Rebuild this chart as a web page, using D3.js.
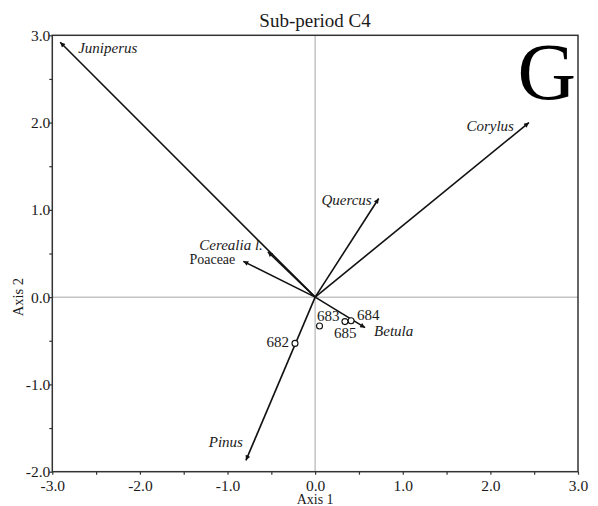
<!DOCTYPE html>
<html>
<head>
<meta charset="utf-8">
<script src="https://cdn.jsdelivr.net/npm/d3@7"></script>
<style>
  html, body { margin: 0; padding: 0; background: #fff; }
  svg { display: block; font-family: "Liberation Serif", "Times New Roman", serif; }
</style>
</head>
<body>
<svg id="chart" width="598" height="506"></svg>
<script>
// Species scores (biplot arrows) on ordination axes 1 and 2
const speciesNames = ["Juniperus", "Corylus", "Quercus", "Cerealia l.", "Poaceae", "Betula", "Pinus"];
const speciesAxis1 = [-2.91, 2.44, 0.725, -0.54, -0.82, 0.57, -0.79];
const speciesAxis2 = [2.92, 2.00, 1.13, 0.52, 0.41, -0.35, -1.87];
const speciesItalic = [true, true, true, true, false, true, true];

// Sample scores
const sampleIds = ["682", "683", "684", "685"];
const sampleAxis1 = [-0.23, 0.05, 0.41, 0.34];
const sampleAxis2 = [-0.53, -0.33, -0.27, -0.28];

// Axis tick values
const xTicks = [-3.0, -2.5, -2.0, -1.5, -1.0, -0.5, 0.0, 0.5, 1.0, 1.5, 2.0, 2.5, 3.0];
const yTicks = [-2.0, -1.5, -1.0, -0.5, 0.0, 0.5, 1.0, 1.5, 2.0, 2.5, 3.0];

// Label placement (dx, dy from the mark, text anchor, font size)
const speciesLabelPos = {
  "Juniperus":   { dx: 18,  dy: 10.5, anchor: "start", size: 15 },
  "Corylus":     { dx: -15, dy: 8,    anchor: "end",   size: 15 },
  "Quercus":     { dx: -7,  dy: 6,    anchor: "end",   size: 15 },
  "Cerealia l.": { dx: -5,  dy: -1.5, anchor: "end",   size: 15 },
  "Poaceae":     { dx: -8,  dy: 2.5,  anchor: "end",   size: 14 },
  "Betula":      { dx: 9,   dy: 8,    anchor: "start", size: 15 },
  "Pinus":       { dx: -3,  dy: -13,  anchor: "end",   size: 15 }
};
const sampleLabelPos = {
  "682": { dx: -6,  dy: 4,    anchor: "end" },
  "683": { dx: -2.5, dy: -4.5, anchor: "start" },
  "684": { dx: 6,   dy: -1,   anchor: "start" },
  "685": { dx: -11, dy: 16.5, anchor: "start" }
};

const serif = '"Liberation Serif", "Times New Roman", serif';
const svg = d3.select("#chart");
const plotLeft = 52.3, plotRight = 578, plotTop = 35.3, plotBottom = 471.7;

const x = d3.scaleLinear().domain([-3, 3]).range([plotLeft, plotRight]);
const y = d3.scaleLinear().domain([-2, 3]).range([plotBottom, plotTop]);

// Zero reference lines
svg.append("line")
  .attr("x1", x(0)).attr("x2", x(0)).attr("y1", plotTop).attr("y2", plotBottom)
  .attr("stroke", "#c4c4c4").attr("stroke-width", 1.5);
svg.append("line")
  .attr("x1", plotLeft).attr("x2", plotRight).attr("y1", y(0)).attr("y2", y(0))
  .attr("stroke", "#c4c4c4").attr("stroke-width", 1.5);

// Axes: ticks every 0.5, labels on whole units, plain hyphen for negatives
const fmt = d => (Number.isInteger(d) ? d.toFixed(1) : "");
const xAxis = d3.axisBottom(x).tickValues(xTicks).tickSize(3).tickSizeOuter(0).tickFormat(fmt);
const yAxis = d3.axisLeft(y).tickValues(yTicks).tickSize(3).tickSizeOuter(0).tickFormat(fmt);

const gx = svg.append("g").attr("transform", `translate(0,${plotBottom})`).call(xAxis);
const gy = svg.append("g").attr("transform", `translate(${plotLeft},0)`).call(yAxis);
[gx, gy].forEach(g => {
  g.attr("font-family", serif).attr("font-size", 15.5);
  g.select(".domain").remove();
  g.selectAll(".tick line").attr("stroke", "#333").attr("stroke-width", 1.2);
  g.selectAll(".tick text").attr("fill", "#1a1a1a");
});
gx.selectAll(".tick text").attr("y", 8).attr("dy", "0.71em");
gy.selectAll(".tick text").attr("x", -2).attr("dy", "0.32em");

// Plot frame
svg.append("rect")
  .attr("x", plotLeft).attr("y", plotTop)
  .attr("width", plotRight - plotLeft).attr("height", plotBottom - plotTop)
  .attr("fill", "none").attr("stroke", "#333").attr("stroke-width", 1.5);

// Title, panel letter, axis titles
svg.append("text").attr("x", 315).attr("y", 26.5)
  .attr("text-anchor", "middle").style("font-size", "19px").attr("fill", "#1a1a1a")
  .text("Sub-period C4");
svg.append("text").attr("x", 576).attr("y", 98.5)
  .attr("text-anchor", "end").style("font-size", "81px").attr("fill", "#000")
  .text("G");
svg.append("text").attr("x", x(0)).attr("y", 504)
  .attr("text-anchor", "middle").style("font-size", "14px").attr("fill", "#1a1a1a")
  .text("Axis 1");
svg.append("text")
  .attr("transform", `translate(23,${y(0)}) rotate(-90)`)
  .attr("text-anchor", "middle").style("font-size", "14.5px").attr("fill", "#1a1a1a")
  .text("Axis 2");

// Arrowhead marker
svg.append("defs").append("marker")
  .attr("id", "arrowhead")
  .attr("viewBox", "0 0 10 10")
  .attr("refX", 10).attr("refY", 5)
  .attr("markerWidth", 7).attr("markerHeight", 5)
  .attr("markerUnits", "userSpaceOnUse")
  .attr("orient", "auto")
  .append("path").attr("d", "M0,0 L10,5 L0,10 Z").attr("fill", "#111");

const species = speciesNames.map((name, i) => ({
  name, a1: speciesAxis1[i], a2: speciesAxis2[i], italic: speciesItalic[i]
}));
const samples = sampleIds.map((id, i) => ({ id, a1: sampleAxis1[i], a2: sampleAxis2[i] }));

// Species arrows from origin
svg.append("g").selectAll("line").data(species).join("line")
  .attr("x1", x(0)).attr("y1", y(0))
  .attr("x2", d => x(d.a1)).attr("y2", d => y(d.a2))
  .attr("stroke", "#111").attr("stroke-width", 1.6)
  .attr("marker-end", "url(#arrowhead)");

svg.append("g").selectAll("text").data(species).join("text")
  .attr("x", d => x(d.a1) + speciesLabelPos[d.name].dx)
  .attr("y", d => y(d.a2) + speciesLabelPos[d.name].dy)
  .attr("text-anchor", d => speciesLabelPos[d.name].anchor)
  .style("font-style", d => d.italic ? "italic" : "normal")
  .style("font-size", d => speciesLabelPos[d.name].size + "px").attr("fill", "#1a1a1a")
  .text(d => d.name);

// Sample points
svg.append("g").selectAll("circle").data(samples).join("circle")
  .attr("cx", d => x(d.a1)).attr("cy", d => y(d.a2))
  .attr("r", 3).attr("fill", "#fff").attr("stroke", "#111").attr("stroke-width", 1.1);

svg.append("g").selectAll("text").data(samples).join("text")
  .attr("x", d => x(d.a1) + sampleLabelPos[d.id].dx)
  .attr("y", d => y(d.a2) + sampleLabelPos[d.id].dy)
  .attr("text-anchor", d => sampleLabelPos[d.id].anchor)
  .style("font-size", "15px").attr("fill", "#1a1a1a")
  .text(d => d.id);
</script>
</body>
</html>
